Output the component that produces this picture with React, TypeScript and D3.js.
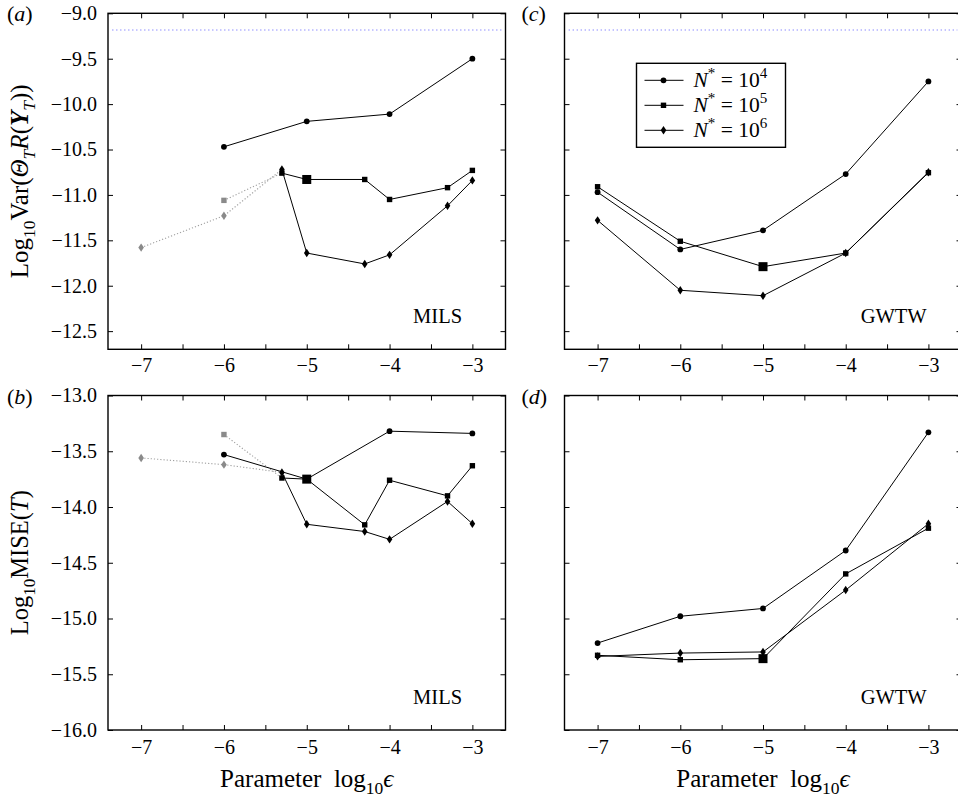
import React, { useEffect, useRef } from 'react';
import * as d3 from 'd3';

// x positions, log10 epsilon
const milsX4 = [-6, -5, -4, -3];
const milsX56 = [-5.3, -5, -4.3, -4, -3.3, -3];
const gwtwX = [-7, -6, -5, -4, -3];
const grayX5 = [-6];
const grayX6 = [-7, -6];

// (a) MILS, log10 Var
const aN4 = [-10.47, -10.19, -10.11, -9.5];
const aN5 = [-10.76, -10.83, -10.83, -11.05, -10.92, -10.73];
const aN6 = [-10.72, -11.64, -11.76, -11.66, -11.12, -10.84];
const aGray5 = [-11.06];
const aGray6 = [-11.58, -11.23];

// (b) MILS, log10 MISE
const bN4 = [-13.53, -13.75, -13.32, -13.34];
const bN5 = [-13.74, -13.75, -14.16, -13.76, -13.9, -13.63];
const bN6 = [-13.69, -14.155, -14.22, -14.29, -13.95, -14.15];
const bGray5 = [-13.35];
const bGray6 = [-13.56, -13.62];

// (c) GWTW, log10 Var
const cN4 = [-10.97, -11.6, -11.39, -10.77, -9.75];
const cN5 = [-10.91, -11.51, -11.79, -11.64, -10.755];
const cN6 = [-11.28, -12.05, -12.11, -11.64, -10.75];

// (d) GWTW, log10 MISE
const dN4 = [-15.22, -14.98, -14.91, -14.39, -13.33];
const dN5 = [-15.33, -15.37, -15.36, -14.6, -14.19];
const dN6 = [-15.34, -15.31, -15.3, -14.745, -14.15];

const refLevel = -9.184; // blue dotted reference in top row
const bigX = -5; // the N*=1e5 point drawn with a big square

const legendLabels = ['4', '5', '6'];
const shapes = ['circle', 'square', 'diamond'];

const FONT = '"Liberation Serif", "DejaVu Serif", serif';

type Part = { t: string; sub?: boolean; sup?: boolean; it?: boolean; b?: boolean };

function rich(sel: any, parts: Part[], size: number) {
  let cur = 0;
  parts.forEach(p => {
    const target = p.sub ? size * 0.28 : p.sup ? -size * 0.42 : 0;
    const ts = sel.append('tspan').text(p.t).attr('dy', target - cur);
    cur = target;
    if (p.sub || p.sup) ts.attr('font-size', size * 0.7);
    if (p.it) ts.attr('font-style', 'italic');
    if (p.b) ts.attr('font-weight', 'bold');
  });
}

function marker(g: any, shape: string, cx: number, cy: number, color: string, big = false) {
  if (shape === 'circle') {
    g.append('circle').attr('cx', cx).attr('cy', cy).attr('r', 2.9).attr('fill', color);
  } else if (shape === 'square') {
    const s = big ? 9 : 5.4;
    g.append('rect').attr('x', cx - s / 2).attr('y', cy - s / 2).attr('width', s).attr('height', s).attr('fill', color);
  } else {
    const w = 2.8, h = 4.2;
    g.append('path')
      .attr('d', `M${cx},${cy - h}L${cx + w},${cy}L${cx},${cy + h}L${cx - w},${cy}Z`)
      .attr('fill', color);
  }
}

const App = () => {
  const ref = useRef<SVGSVGElement>(null);

  useEffect(() => {
    const svg = d3.select(ref.current);
    svg.selectAll('*').remove();

    const cols = [[108, 505.5], [564.5, 961.5]];
    const rows = [[13.3, 349.3], [395.5, 730]];
    const xLabelBase = [372.5, 753.5];

    const panels = [
      { tag: 'a', col: 0, row: 0, yd: [-12.7, -9], method: 'MILS', ref: true,
        series: [[milsX4, aN4], [milsX56, aN5], [milsX56, aN6]],
        gray: [null, [grayX5, aGray5], [grayX6, aGray6]] },
      { tag: 'b', col: 0, row: 1, yd: [-16, -13], method: 'MILS', ref: false,
        series: [[milsX4, bN4], [milsX56, bN5], [milsX56, bN6]],
        gray: [null, [grayX5, bGray5], [grayX6, bGray6]] },
      { tag: 'c', col: 1, row: 0, yd: [-12.7, -9], method: 'GWTW', ref: true,
        series: [[gwtwX, cN4], [gwtwX, cN5], [gwtwX, cN6]], gray: [null, null, null] },
      { tag: 'd', col: 1, row: 1, yd: [-16, -13], method: 'GWTW', ref: false,
        series: [[gwtwX, dN4], [gwtwX, dN5], [gwtwX, dN6]], gray: [null, null, null] },
    ];

    panels.forEach((p: any) => {
      const [x0, x1] = cols[p.col];
      const [y0, y1] = rows[p.row];
      const x = d3.scaleLinear().domain([-7.4, -2.6]).range([x0, x1]);
      const y = d3.scaleLinear().domain(p.yd).range([y1, y0]);
      const g = svg.append('g').attr('font-family', FONT);

      const xt = d3.range(-7, -2.99, 0.5);
      const yt = d3.range(p.yd[1], p.yd[0] - 0.001, -0.5);
      const showY = p.col === 0;

      const styleAxis = (a: any) => {
        a.select('.domain').remove();
        a.selectAll('line').attr('stroke', '#000').attr('stroke-width', 1);
        a.selectAll('text').attr('font-family', FONT).attr('font-size', 20).attr('fill', '#000');
        a.attr('font-family', null).attr('font-size', null);
      };

      g.append('g').attr('transform', `translate(0,${y1})`)
        .call(d3.axisBottom(x).tickValues(xt).tickSize(-5).tickPadding(0)
          .tickFormat((d: any) => (Number.isInteger(d) ? d3.format('d')(d) : '')))
        .call(styleAxis)
        .selectAll('text').attr('y', xLabelBase[p.row] - y1).attr('dy', 0);
      g.append('g').attr('transform', `translate(0,${y0})`)
        .call(d3.axisTop(x).tickValues(xt).tickSize(-5).tickFormat(() => ''))
        .call(styleAxis);
      g.append('g').attr('transform', `translate(${x0},0)`)
        .call(d3.axisLeft(y).tickValues(yt).tickSize(-5).tickPadding(11)
          .tickFormat((d: any) => (showY ? d3.format('.1f')(d) : '')))
        .call(styleAxis);
      g.append('g').attr('transform', `translate(${x1},0)`)
        .call(d3.axisRight(y).tickValues(yt).tickSize(-5).tickFormat(() => ''))
        .call(styleAxis);

      g.append('rect').attr('x', x0).attr('y', y0).attr('width', x1 - x0).attr('height', y1 - y0)
        .attr('fill', 'none').attr('stroke', '#000').attr('stroke-width', 1.4);

      if (p.ref) {
        g.append('line').attr('x1', x(-7.35)).attr('x2', x(-2.65))
          .attr('y1', y(refLevel)).attr('y2', y(refLevel))
          .attr('stroke', '#8080ff').attr('stroke-width', 1.1).attr('stroke-dasharray', '1.3,2.7');
      }

      const line = d3.line<number[]>().x(d => x(d[0])).y(d => y(d[1]));

      // gray dotted extensions
      p.gray.forEach((gr: any, i: number) => {
        if (!gr) return;
        const [sx, sy] = p.series[i];
        const pts = gr[0].map((v: number, k: number) => [v, gr[1][k]]).concat([[sx[0], sy[0]]]);
        g.append('path').attr('d', line(pts)).attr('fill', 'none')
          .attr('stroke', '#a0a0a0').attr('stroke-width', 1.1).attr('stroke-dasharray', '1.2,2');
      });

      p.series.forEach((s: any) => {
        const pts = s[0].map((v: number, k: number) => [v, s[1][k]]);
        g.append('path').attr('d', line(pts)).attr('fill', 'none')
          .attr('stroke', '#000').attr('stroke-width', 1);
      });

      p.gray.forEach((gr: any, i: number) => {
        if (!gr) return;
        gr[0].forEach((v: number, k: number) => marker(g, shapes[i], x(v), y(gr[1][k]), '#8a8a8a'));
      });

      p.series.forEach((s: any, i: number) => {
        s[0].forEach((v: number, k: number) =>
          marker(g, shapes[i], x(v), y(s[1][k]), '#000', i === 1 && v === bigX));
      });

      g.append('text').attr('x', x(-3.42)).attr('y', y1 - 26).attr('text-anchor', 'middle')
        .attr('font-size', 20.5).text(p.method);

      const pl = g.append('text').attr('x', x0 - (p.col === 0 ? 101 : 43)).attr('y', y0 + 8).attr('font-size', 22);
      rich(pl, [{ t: '(' }, { t: p.tag, it: true }, { t: ')' }], 22);

      if (p.row === 1) {
        const xl = g.append('text').attr('x', x(-5)).attr('y', 787).attr('text-anchor', 'middle').attr('font-size', 25);
        rich(xl, [{ t: 'Parameter\u00a0\u00a0log' }, { t: '10', sub: true }, { t: '\u03f5', it: true }], 25);
      }

      if (p.col === 0) {
        const fs = p.row === 0 ? 25 : 24.5;
        const yl = g.append('text').attr('transform', `translate(28,${(y0 + y1) / 2}) rotate(-90)`)
          .attr('text-anchor', 'middle').attr('font-size', fs);
        if (p.row === 0) {
          rich(yl, [{ t: 'Log' }, { t: '10', sub: true }, { t: 'Var(' }, { t: '\u0398', it: true },
            { t: 'T', sub: true, it: true }, { t: 'R', it: true }, { t: '(' }, { t: 'Y', it: true, b: true },
            { t: 'T', sub: true, it: true }, { t: '))' }], fs);
        } else {
          rich(yl, [{ t: 'Log' }, { t: '10', sub: true }, { t: 'MISE(' }, { t: 'T', it: true }, { t: ')' }], fs);
        }
      }

      if (p.tag === 'c') {
        const lx = x0 + 72, ly = y0 + 50;
        const lg = g.append('g');
        lg.append('rect').attr('x', lx).attr('y', ly).attr('width', 149).attr('height', 84)
          .attr('fill', '#fff').attr('stroke', '#000').attr('stroke-width', 1.4);
        legendLabels.forEach((lab, i) => {
          const ry = ly + 17 + i * 25;
          lg.append('line').attr('x1', lx + 8).attr('x2', lx + 47).attr('y1', ry).attr('y2', ry)
            .attr('stroke', '#000').attr('stroke-width', 1);
          marker(lg, shapes[i], lx + 27, ry, '#000');
          const t = lg.append('text').attr('x', lx + 57).attr('y', ry + 7).attr('font-size', 21.5);
          rich(t, [{ t: 'N', it: true }, { t: '*', sup: true }, { t: ' = 10' }, { t: lab, sup: true }], 21.5);
        });
      }
    });
  }, []);

  return (
    <svg ref={ref} width={958} height={798}
      style={{ position: 'absolute', left: 0, top: 0, background: '#fff' }} />
  );
};

export default App;
